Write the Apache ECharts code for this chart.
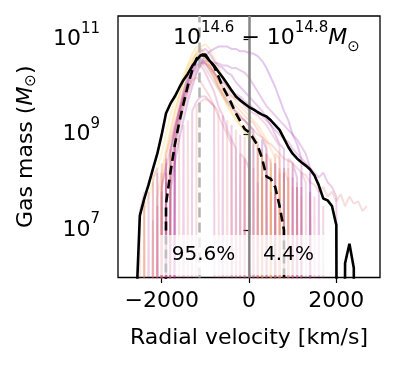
<!DOCTYPE html>
<html>
<head>
<meta charset="utf-8">
<script src="https://cdn.jsdelivr.net/npm/echarts@6/dist/echarts.min.js"></script>
<style>
  html, body { margin: 0; padding: 0; background: #fff; }
  #chart { width: 398px; height: 365px; }
</style>
</head>
<body>
<div id="chart"></div>
<script>
// velocity bin centres (km/s)
const vel = [-2700, -2600, -2500, -2400, -2300, -2200, -2100, -2000, -1900, -1800, -1700,
  -1600, -1500, -1400, -1300, -1200, -1100, -1000, -900, -800, -700,
  -600, -500, -400, -300, -200, -100, 0, 100, 200, 300,
  400, 500, 600, 700, 800, 900, 1000, 1100, 1200, 1300,
  1400, 1500, 1600, 1700, 1800, 1900, 2000, 2100, 2200, 2300,
  2400, 2500, 2600, 2700]

// log10 gas mass per bin, 0 = empty bin
const totalLog = [0, 5.0, 7.3, 7.65, 7.95, 8.28, 8.6, 9.0, 9.45, 9.65, 9.8,
  9.98, 10.15, 10.28, 10.44, 10.57, 10.67, 10.66, 10.55, 10.45, 10.32,
  10.2, 10.07, 9.93, 9.8, 9.72, 9.65, 9.58, 9.53, 9.47, 9.42,
  9.38, 9.3, 9.2, 9.1, 8.92, 8.74, 8.6, 8.5, 8.42, 8.35,
  8.27, 8.14, 7.93, 7.66, 7.62, 7.5, 7.1, 0, 6.3, 6.71,
  6.2, 0, 0, 0]

const infallLog = [0, 0, 0, 0, 0, 0, 0, 0, 7.55, 8.2, 8.78,
  9.25, 9.65, 10.03, 10.35, 10.6, 10.68, 10.68, 10.56, 10.43, 10.22,
  10.0, 9.83, 9.65, 9.45, 9.28, 9.12, 9.05, 8.92, 8.77, 8.5,
  8.12, 8.07, 7.9, 7.5, 7.0, 0, 0, 0, 0, 0,
  0, 0, 0, 0, 0, 0, 0, 0, 0, 0,
  0, 0, 0, 0]

// individual clusters in the mass bin
const clusterLogMass = [
  [0, 0, 0, 0, 0, 0, 0, 7.8, 0, 8.6, 9.1,
   9.5, 9.9, 10.2, 10.4, 10.55, 10.6, 10.5, 10.35, 10.2, 10.0, 9.85,
   9.7, 9.6, 9.45, 9.35, 9.3, 9.2, 9.1, 0, 8.9, 8.7, 0,
   8.4, 0, 8.2, 0, 0, 7.9, 0, 0, 0, 0, 0,
   0, 0, 0, 0, 0, 0, 0, 0, 0, 0, 0],
  [0, 0, 0, 0, 0, 0, 0, 0, 8.0, 0, 8.9,
   9.4, 9.8, 10.1, 10.4, 10.6, 10.75, 10.8, 10.7, 10.55, 10.45, 10.4,
   10.3, 10.25, 10.1, 10.0, 9.9, 9.8, 9.7, 9.6, 9.5, 9.35, 9.2,
   9.0, 8.8, 8.7, 0, 8.4, 8.1, 0, 0, 7.8, 0, 0,
   0, 0, 0, 0, 0, 0, 0, 0, 0, 0, 0],
  [0, 0, 0, 0, 0, 0, 7.5, 0, 0, 8.3, 8.8,
   9.3, 9.7, 10.0, 10.3, 10.5, 10.45, 10.3, 10.1, 9.9, 9.6, 9.4,
   9.1, 8.9, 8.7, 0, 8.5, 8.3, 0, 8.0, 0, 0, 7.8,
   0, 0, 0, 0, 0, 0, 0, 0, 0, 0, 0,
   0, 0, 0, 0, 0, 0, 0, 0, 0, 0, 0],
  [0, 0, 0, 0, 0, 7.2, 0, 7.9, 8.4, 0, 9.0,
   9.4, 9.8, 10.1, 10.35, 10.55, 10.7, 10.6, 10.45, 10.3, 10.15, 10.0,
   9.9, 9.8, 9.75, 9.7, 9.6, 9.5, 9.45, 9.4, 9.3, 9.2, 9.05,
   8.9, 8.75, 0, 8.5, 8.4, 0, 8.2, 8.0, 0, 7.7, 0,
   7.5, 0, 0, 0, 0, 0, 0, 0, 0, 0, 0],
  [0, 0, 0, 0, 0, 0, 0, 8.2, 0, 8.7, 9.2,
   9.6, 9.95, 10.25, 10.45, 10.6, 10.55, 10.4, 10.25, 10.1, 9.95, 9.8,
   9.65, 9.55, 9.5, 9.4, 9.3, 9.2, 9.1, 9.0, 8.95, 8.85, 8.8,
   8.7, 8.6, 8.5, 8.45, 8.4, 8.3, 8.2, 8.15, 8.0, 7.95, 7.8,
   7.9, 7.7, 7.8, 7.6, 7.75, 7.5, 7.7, 7.55, 7.6, 7.4, 7.5],
  [0, 0, 0, 0, 0, 0, 0, 0, 7.9, 8.5, 9.0,
   9.5, 9.9, 10.25, 10.5, 10.7, 10.8, 10.7, 10.5, 10.3, 10.1, 9.9,
   9.75, 9.6, 9.5, 9.4, 9.3, 9.15, 9.0, 8.85, 0, 8.6, 8.4,
   0, 8.2, 0, 0, 7.9, 0, 0, 0, 0, 0, 0,
   0, 0, 0, 0, 0, 0, 0, 0, 0, 0, 0],
  [0, 0, 0, 0, 0, 0, 7.7, 8.2, 8.7, 9.1, 9.5,
   9.8, 10.1, 10.35, 10.55, 10.75, 10.85, 10.9, 10.8, 10.6, 10.4, 10.2,
   10.0, 9.85, 9.7, 9.6, 9.5, 9.4, 9.3, 9.2, 9.05, 8.9, 8.7,
   8.5, 0, 8.3, 8.0, 0, 0, 7.7, 0, 0, 0, 0,
   0, 0, 0, 0, 0, 0, 0, 0, 0, 0, 0],
  [0, 0, 0, 7.4, 7.7, 8.0, 8.3, 8.6, 9.0, 9.4, 9.7,
   10.0, 10.25, 10.45, 10.6, 10.7, 10.65, 10.55, 10.4, 10.25, 10.05, 9.85,
   9.65, 9.5, 9.35, 9.2, 9.1, 9.0, 8.85, 8.7, 8.5, 0, 8.3,
   0, 0, 8.0, 0, 0, 0, 0, 0, 0, 0, 0,
   0, 0, 0, 0, 0, 0, 0, 0, 0, 0, 0],
  [0, 0, 0, 0, 0, 0, 0, 0, 0, 7.8, 8.4,
   8.9, 9.3, 9.7, 10.0, 10.3, 10.5, 10.65, 10.75, 10.8, 10.85, 10.85,
   10.85, 10.8, 10.8, 10.75, 10.75, 10.72, 10.7, 10.65, 10.55, 10.4, 10.2,
   10.0, 9.75, 9.5, 9.3, 9.0, 8.8, 8.5, 0, 8.2, 0, 0,
   0, 0, 0, 0, 0, 0, 0, 0, 0, 0, 0],
  [0, 0, 0, 0, 0, 0, 0, 0, 8.2, 0, 8.8,
   9.2, 9.6, 9.9, 10.2, 10.4, 10.5, 10.55, 10.55, 10.5, 10.5, 10.45,
   10.45, 10.4, 10.4, 10.35, 10.3, 10.2, 10.05, 9.9, 9.75, 9.6, 9.5,
   9.4, 9.3, 9.2, 9.1, 9.0, 8.9, 8.75, 8.6, 8.3, 0, 8.0,
   0, 0, 0, 0, 0, 0, 0, 0, 0, 0, 0],
  [0, 0, 7.4, 7.8, 0, 8.1, 8.3, 0, 8.6, 8.9, 9.2,
   9.5, 9.75, 9.95, 10.15, 10.2, 10.1, 9.95, 9.8, 9.6, 9.4, 9.2,
   9.0, 8.8, 0, 8.6, 8.5, 0, 8.3, 0, 8.1, 0, 0,
   7.8, 0, 0, 0, 0, 0, 0, 0, 0, 0, 0,
   0, 0, 0, 0, 0, 0, 0, 0, 0, 0, 0],
  [0, 0, 0, 0, 0, 0, 0, 0, 0, 8.0, 8.6,
   9.1, 9.5, 9.85, 10.1, 10.3, 10.45, 10.5, 10.45, 10.3, 10.15, 10.0,
   9.85, 9.7, 9.6, 9.5, 9.4, 9.3, 9.25, 9.1, 8.95, 8.8, 0,
   8.6, 8.5, 0, 8.3, 0, 8.0, 0, 0, 7.7, 0, 0,
   0, 0, 0, 0, 0, 0, 0, 0, 0, 0, 0],
  [0, 0, 0, 0, 0, 0, 0, 7.9, 8.3, 8.7, 9.1,
   9.5, 9.8, 10.1, 10.3, 10.45, 10.5, 10.5, 10.4, 10.3, 10.2, 10.1,
   10.0, 9.9, 9.85, 9.8, 9.7, 9.65, 9.55, 9.5, 9.4, 9.3, 9.2,
   9.1, 9.0, 8.9, 8.85, 8.7, 8.6, 8.5, 8.4, 8.3, 8.2, 8.1,
   8.2, 8.0, 7.9, 7.7, 0, 0, 0, 0, 0, 0, 0],
  [0, 0, 0, 0, 0, 0, 0, 8.0, 8.5, 9.0, 9.4,
   9.8, 10.15, 10.45, 10.7, 10.85, 10.8, 10.6, 10.4, 10.2, 10.0, 9.8,
   9.6, 9.45, 9.3, 9.2, 9.05, 8.9, 0, 8.7, 8.6, 0, 8.4,
   0, 8.2, 0, 0, 0, 0, 0, 0, 0, 0, 0,
   0, 0, 0, 0, 0, 0, 0, 0, 0, 0, 0],
  [0, 0, 0, 0, 7.8, 0, 8.2, 0, 8.5, 0, 8.8,
   0, 9.2, 0, 9.5, 9.7, 9.8, 9.8, 9.7, 9.6, 0, 9.4,
   0, 9.2, 0, 9.0, 0, 8.9, 0, 8.8, 0, 8.6, 0,
   8.4, 0, 8.3, 0, 8.1, 0, 7.9, 0, 0, 0, 0,
   0, 0, 0, 0, 0, 0, 0, 0, 0, 0, 0],
  [0, 0, 0, 7.6, 0, 8.0, 0, 8.4, 0, 8.7, 0,
   9.0, 0, 9.3, 0, 9.6, 9.7, 9.75, 9.7, 9.6, 9.5, 0,
   9.3, 0, 9.1, 0, 8.95, 0, 8.8, 0, 8.7, 0, 8.5,
   0, 8.3, 0, 8.1, 0, 7.9, 0, 0, 0, 0, 0,
   0, 0, 0, 0, 0, 0, 0, 0, 0, 0, 0]
]
const clusterColors = ['#6a00a8', '#8f0da4', '#b12a90', '#cc4778', '#e16462', '#f2844b',
  '#fca636', '#fcce25', '#7e03a8', '#9c179e', '#d8576b', '#ed7953', '#a82296', '#fdb42f',
  '#b12a90', '#e16462']

const peakVel = -1130
const splitVel = 0
const xTicks = [-2000, 0, 2000]
const yTicks = [1e7, 1e9, 1e11]
const fractionLabels = ['95.6%', '4.4%']
const massBin = ['14.6', '14.8']

const FONT = 'DejaVu Sans'
const floorMass = 1e-30
const toPoints = logs => logs.map((lg, i) => [vel[i], lg > 0 ? Math.pow(10, lg) : floorMass])

const clusterSeries = clusterLogMass.map((row, k) => ({
  type: 'line',
  data: toPoints(row),
  showSymbol: false,
  silent: true,
  z: 1,
  lineStyle: { color: clusterColors[k], width: 2, opacity: 0.22 }
}))

const chart = echarts.init(document.getElementById('chart'), null, { renderer: 'canvas' })

chart.setOption({
  animation: false,
  title: {
    text: '10{s|' + massBin[0] + '} \u2212 10{s|' + massBin[1] + '}{m|M}{o|\u2299}',
    left: 173,
    top: 21,
    padding: 0,
    textStyle: {
      fontFamily: FONT, fontSize: 22, fontWeight: 'normal', color: '#000', lineHeight: 34,
      rich: {
        s: { fontFamily: FONT, fontSize: 15, lineHeight: 15, verticalAlign: 'top', color: '#000' },
        m: { fontFamily: FONT, fontSize: 22, lineHeight: 34, fontStyle: 'italic', color: '#000' },
        o: { fontFamily: FONT, fontSize: 15, lineHeight: 22, verticalAlign: 'bottom', color: '#000' }
      }
    }
  },
  grid: {
    left: 118, top: 16, right: 18, bottom: 87.5,
    show: true, borderColor: '#000', borderWidth: 1.3,
    outerBoundsMode: 'none'
  },
  xAxis: {
    type: 'value',
    min: -3000,
    max: 3000,
    name: 'Radial velocity [km/s]',
    nameLocation: 'middle',
    nameGap: 50,
    nameTextStyle: { fontFamily: FONT, fontSize: 22, color: '#000' },
    splitLine: { show: false },
    axisLine: { show: false },
    axisTick: { show: true, length: 5.5, lineStyle: { color: '#000', width: 1.2 }, customValues: xTicks },
    axisLabel: {
      customValues: xTicks,
      fontFamily: FONT, fontSize: 22, color: '#000', margin: 13,
      formatter: v => (v < 0 ? '\u2212' + Math.abs(v) : String(v))
    }
  },
  yAxis: {
    type: 'log',
    min: 1e6,
    max: 3.1e11,
    name: 'Gas mass ({m|M}{o|\u2299})',
    nameLocation: 'middle',
    nameGap: 79,
    nameTextStyle: {
      fontFamily: FONT, fontSize: 22, color: '#000', lineHeight: 26,
      rich: {
        m: { fontFamily: FONT, fontSize: 22, lineHeight: 26, fontStyle: 'italic', color: '#000' },
        o: { fontFamily: FONT, fontSize: 15, lineHeight: 15, verticalAlign: 'bottom', color: '#000' }
      }
    },
    splitLine: { show: false },
    axisLine: { show: false },
    axisTick: { show: true, length: 5.5, lineStyle: { color: '#000', width: 1.2 }, customValues: yTicks },
    axisLabel: {
      customValues: yTicks,
      margin: 18,
      formatter: v => '{b|10}{s|' + Math.round(Math.log10(v)) + '}',
      rich: {
        b: { fontFamily: FONT, fontSize: 22, lineHeight: 36, color: '#000' },
        s: { fontFamily: FONT, fontSize: 15, lineHeight: 15, verticalAlign: 'top', color: '#000' }
      }
    }
  },
  series: clusterSeries.concat([
    {
      type: 'line',
      data: [],
      silent: true,
      markLine: {
        silent: true,
        symbol: 'none',
        z: 5,
        label: { show: false },
        data: [
          { xAxis: peakVel, lineStyle: { color: '#b3b3b3', width: 2.5, type: [10, 5] } },
          { xAxis: splitVel, lineStyle: { color: '#858585', width: 2.5, type: 'solid' } }
        ]
      }
    },
    {
      type: 'line',
      data: toPoints(totalLog),
      showSymbol: false,
      silent: true,
      z: 10,
      lineStyle: { color: '#000', width: 2.6 }
    },
    {
      type: 'line',
      data: toPoints(infallLog),
      showSymbol: false,
      silent: true,
      z: 10,
      lineStyle: { color: '#000', width: 2.6, type: [9, 5] }
    }
  ]),
  graphic: [
    {
      type: 'text', x: 203.5, y: 255, z: 100, silent: true,
      style: {
        text: fractionLabels[0], font: '20px "DejaVu Sans"', fill: '#000',
        align: 'center', verticalAlign: 'middle',
        backgroundColor: 'rgba(255,255,255,0.75)', padding: [10, 12.5]
      }
    },
    {
      type: 'text', x: 288.5, y: 255, z: 100, silent: true,
      style: {
        text: fractionLabels[1], font: '20px "DejaVu Sans"', fill: '#000',
        align: 'center', verticalAlign: 'middle',
        backgroundColor: 'rgba(255,255,255,0.75)', padding: [10, 12.5]
      }
    }
  ]
})
</script>
</body>
</html>
